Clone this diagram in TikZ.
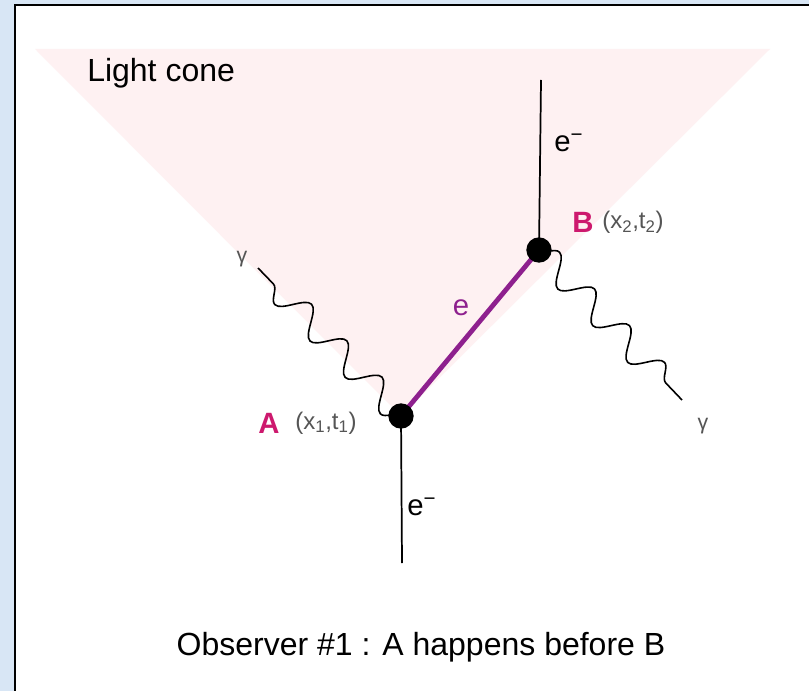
\documentclass[tikz,border=0pt]{standalone}
\usepackage{fontspec}
\setmainfont{Liberation Sans}
\usetikzlibrary{decorations.pathmorphing}
\definecolor{bgblue}{RGB}{216,230,245}
\definecolor{conepink}{RGB}{254,241,242}
\definecolor{eline}{RGB}{142,32,142}
\definecolor{evlabel}{RGB}{205,25,110}
\definecolor{graytext}{RGB}{85,85,85}
\tikzset{
  vertex/.style={circle,fill=black,inner sep=0pt,minimum size=19pt},
  fermion/.style={line width=1.3pt,black},
  photon/.style={line width=1.2pt,black,decorate,decoration={snake,segment length=38pt,amplitude=10pt}},
  lbl/.style={inner sep=0pt,anchor=west},
  evname/.style={inner sep=0pt,anchor=west,text=evlabel,font=\fontsize{22}{24}\selectfont\bfseries},
  coord/.style={inner sep=0pt,anchor=west,text=graytext,font=\fontsize{18}{20}\selectfont},
  gam/.style={inner sep=0pt,text=graytext,font=\fontsize{16}{18}\selectfont},
  elab/.style={inner sep=0pt,anchor=west,font=\fontsize{22}{24}\selectfont}
}
\begin{document}
\begin{tikzpicture}[x=0.75pt,y=-0.75pt]
\useasboundingbox (0,0) rectangle (809,691);
% background
\fill[bgblue] (0,0) rectangle (809,691);
\fill[white] (15,5) rectangle (815,700);
\draw[line width=2.2pt] (15,700) -- (15,5) -- (815,5);
% light cone
\fill[conepink] (35,49) -- (770,49) -- (401,416) -- cycle;
\node[lbl,font=\fontsize{24}{26}\selectfont] (lc) at (87,73) {Light cone};
% vertices
\coordinate (Ac) at (401,416);
\coordinate (Bc) at (539,250);
\coordinate (topB) at (541,80);
\coordinate (botA) at (402,563);
\coordinate (gA) at (258,268);
\coordinate (gB) at (682,400);
\draw[fermion] (Bc) -- (topB);
\draw[fermion] (Ac) -- (botA);
\draw[photon] (Ac) -- (gA);
\draw[photon] (Bc) -- (gB);
\draw[eline,line width=3.6pt] (Ac) -- (Bc);
\node[vertex] (A) at (Ac) {};
\node[vertex] (B) at (Bc) {};
% labels
\node[elab] (em1) at (554,143) {e\textsuperscript{−}};
\node[elab] (em2) at (407,507) {e\textsuperscript{−}};
\node[inner sep=0pt,text=eline,font=\fontsize{22}{24}\selectfont] (el) at (461,308) {e};
\node[evname] (Bn) at (572,222) {B};
\node[coord] (Bx) at (602,222) {(x\textsubscript{2},t\textsubscript{2})};
\node[evname] (An) at (258,423) {A};
\node[coord] (Ax) at (295,423) {(x\textsubscript{1},t\textsubscript{1})};
\node[gam] (g1) at (242,259) {γ};
\node[gam] (g2) at (703,426) {γ};
\node[inner sep=0pt,font=\fontsize{24}{26}\selectfont] (cap) at (421,647) {Observer \#1 : A happens before B};
\end{tikzpicture}
\end{document}
